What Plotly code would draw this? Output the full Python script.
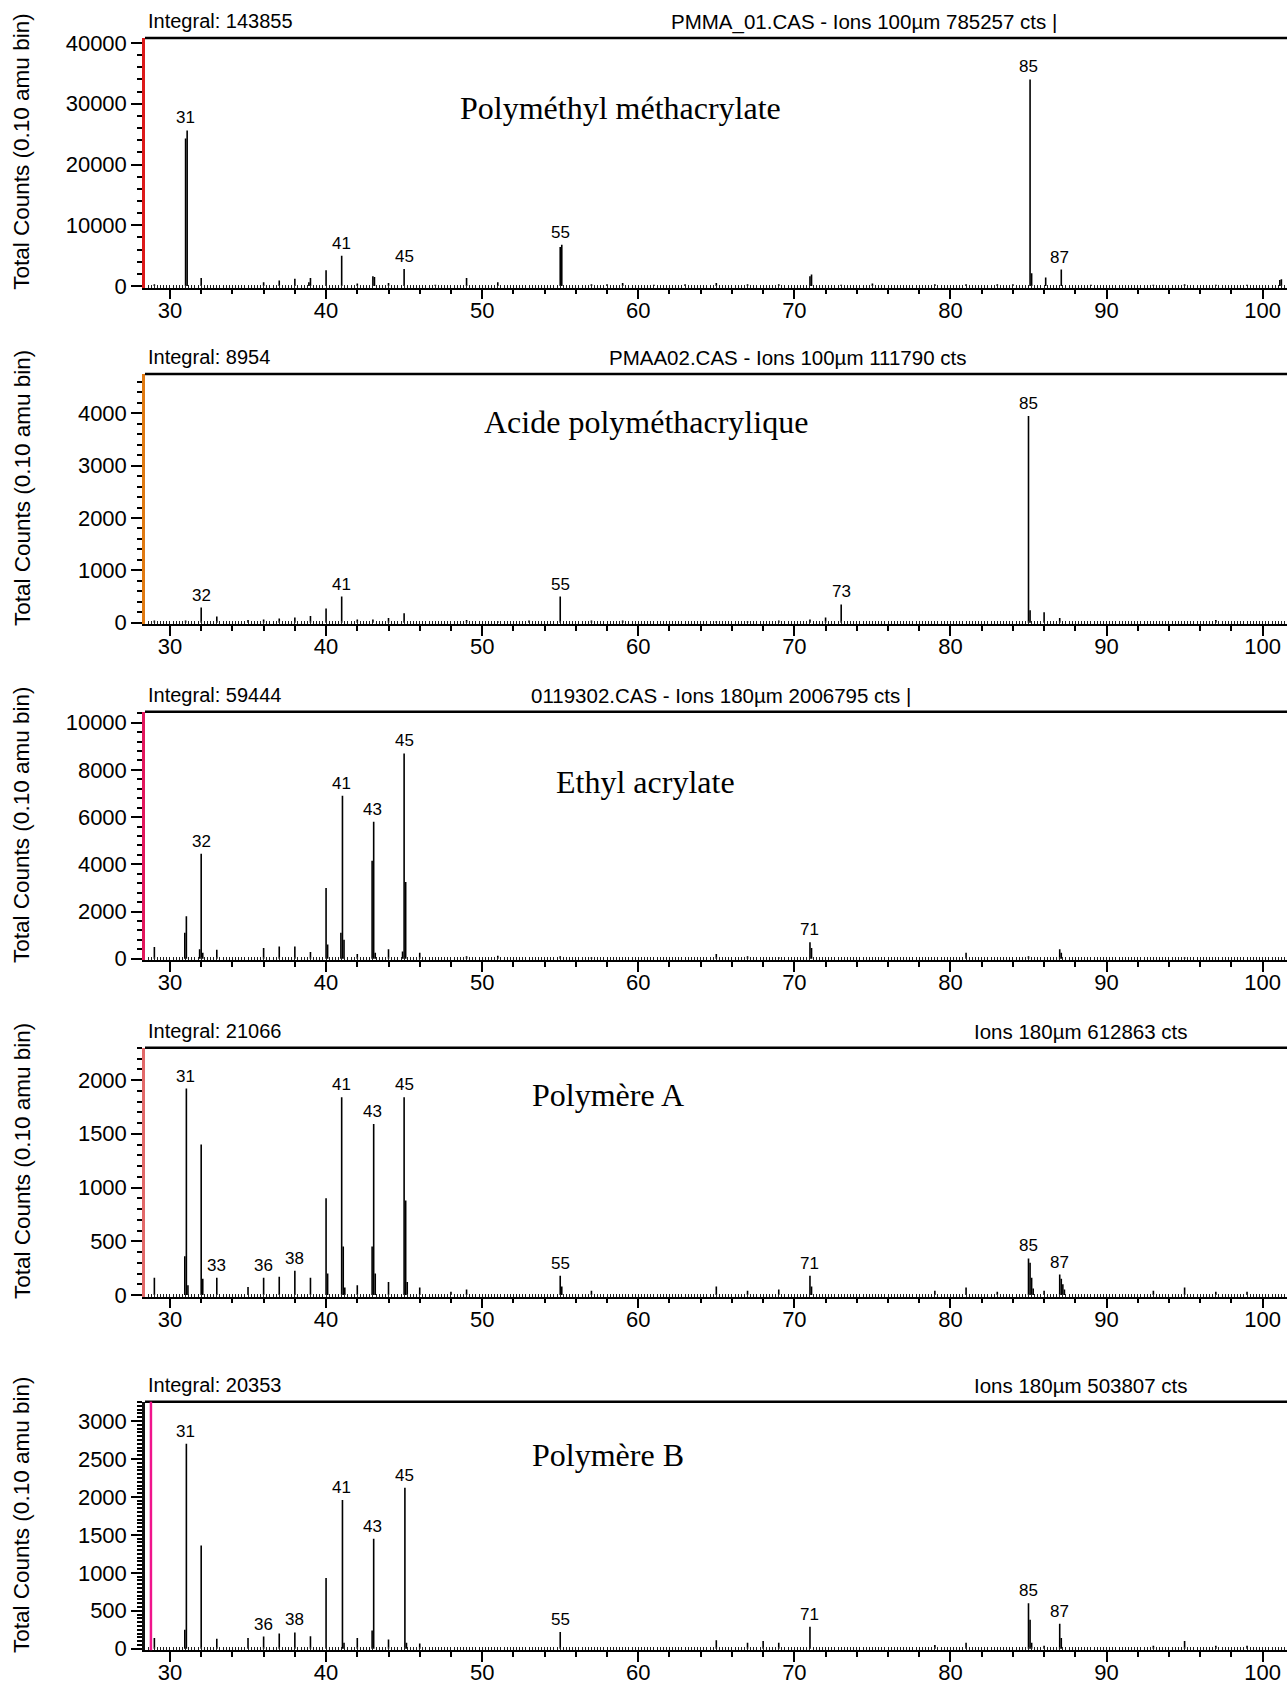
import plotly.graph_objects as go

# ---------------- DATA ----------------
MASS_1 = [29, 31.0, 31.1, 32, 36, 37, 38, 38.9, 39, 40, 41, 42, 43.0, 43.1, 44, 45, 47, 49, 51,
          55.0, 55.1, 57, 58, 59, 61, 63, 65, 67, 69, 71.0, 71.1, 73, 75, 79, 81, 83, 84,
          85.1, 85.2, 86.1, 87.1, 89, 93, 95, 97, 99, 101.1, 101.2]
COUNTS_1 = [300, 24300, 25600, 1300, 600, 900, 1200, 600, 1300, 2600, 5000, 400, 1600, 1500, 500, 2800, 200, 1300, 600,
            6400, 6800, 300, 300, 500, 200, 300, 500, 300, 300, 1600, 1900, 200, 400, 300, 300, 300, 300,
            34000, 2100, 1400, 2700, 200, 200, 300, 200, 200, 1000, 1100]
LABELS_1 = [31, 41, 45, 55, 85, 87]

MASS_2 = [29, 31, 32, 33, 35, 36, 37, 38, 39, 40, 41, 42, 43, 44, 45, 49, 51, 53, 55, 57, 59,
          65, 67, 69, 71, 72, 73, 85.0, 85.1, 86, 87, 97]
COUNTS_2 = [40, 40, 290, 120, 50, 60, 80, 100, 130, 270, 500, 60, 60, 90, 180, 50, 30, 40, 500, 40, 40,
            30, 30, 40, 60, 100, 350, 3950, 240, 200, 90, 50]
LABELS_2 = [32, 41, 55, 73, 85]

MASS_3 = [29, 30.95, 31.05, 31.9, 32.0, 32.1, 33, 36, 37, 38, 39, 40.0, 40.1, 40.95, 41.05, 41.15, 42,
          42.95, 43.05, 43.15, 44, 44.9, 45.0, 45.1, 46, 49, 51, 55, 57, 65, 67, 69, 71.0, 71.1,
          81, 85, 87.0, 87.1, 95]
COUNTS_3 = [500, 1100, 1800, 400, 4450, 250, 380, 450, 520, 520, 280, 3000, 600, 1100, 6900, 800, 200,
            4150, 5800, 250, 400, 300, 8700, 3250, 250, 100, 120, 100, 60, 200, 100, 60, 700, 450,
            250, 100, 400, 250, 60]
LABELS_3 = [32, 41, 43, 45, 71]

MASS_4 = [29, 30.95, 31.05, 31.15, 32.0, 32.1, 33, 35, 36, 37, 38, 39, 40.0, 40.1, 41.0, 41.1, 41.2, 42,
          42.95, 43.05, 43.15, 44, 45.0, 45.1, 45.2, 46, 48, 49, 55.0, 55.1, 57, 65, 67, 69, 71.0, 71.1,
          79, 81, 83, 85.0, 85.1, 85.2, 85.3, 86, 87.0, 87.1, 87.2, 87.3, 93, 95, 97, 99]
COUNTS_4 = [160, 360, 1920, 90, 1400, 150, 160, 75, 160, 170, 225, 160, 900, 200, 1840, 450, 70, 90,
            450, 1590, 200, 120, 1840, 880, 120, 70, 30, 50, 180, 80, 40, 80, 40, 50, 180, 80,
            40, 70, 30, 340, 300, 160, 60, 40, 190, 150, 100, 50, 40, 70, 30, 30]
LABELS_4 = [31, 33, 36, 38, 41, 43, 45, 55, 71, 85, 87]

MASS_5 = [29, 30.95, 31.05, 32, 33, 35, 36, 37, 38, 39, 40, 41.05, 41.15, 42, 42.95, 43.05, 44,
          45.05, 45.15, 46, 55, 65, 67, 68, 69, 71, 79, 81, 85.0, 85.1, 85.2, 86, 87.0, 87.1,
          93, 95, 97, 99]
COUNTS_5 = [140, 250, 2700, 1360, 130, 140, 160, 200, 215, 165, 930, 1960, 80, 140, 240, 1450, 120,
            2120, 80, 70, 220, 110, 80, 100, 80, 290, 50, 80, 600, 380, 80, 40, 330, 140,
            40, 100, 40, 40]
LABELS_5 = [31, 36, 38, 41, 43, 45, 55, 71, 85, 87]

INTEGRALS = ["Integral: 143855", "Integral: 8954", "Integral: 59444", "Integral: 21066", "Integral: 20353"]
HEADERS = ["PMMA_01.CAS - Ions 100µm 785257 cts |", "PMAA02.CAS - Ions 100µm 111790 cts",
           "0119302.CAS - Ions 180µm 2006795 cts |", "Ions 180µm 612863 cts", "Ions 180µm 503807 cts"]
NAMES = ["Polyméthyl méthacrylate", "Acide polyméthacrylique", "Ethyl acrylate", "Polymère A", "Polymère B"]
Y_TITLE = "Total Counts (0.10 amu bin)"
X_TICKS = [30, 40, 50, 60, 70, 80, 90, 100]

MASSES = [MASS_1, MASS_2, MASS_3, MASS_4, MASS_5]
COUNTS = [COUNTS_1, COUNTS_2, COUNTS_3, COUNTS_4, COUNTS_5]
LABELS = [LABELS_1, LABELS_2, LABELS_3, LABELS_4, LABELS_5]

# ---------------- LAYOUT GEOMETRY ----------------
W, H = 1287, 1685
ML = 145
PW = W - ML
X_RANGE = [28.4, 101.56]

GEOM = [
    dict(top=38.0, zero=286.0, ppu=243.0 / 40000, dtick=10000, minor=2000),
    dict(top=374.0, zero=622.7, ppu=209.4 / 4000, dtick=1000, minor=200),
    dict(top=711.7, zero=958.7, ppu=236.0 / 10000, dtick=2000, minor=400),
    dict(top=1047.7, zero=1295.0, ppu=215.0 / 2000, dtick=500, minor=100),
    dict(top=1401.7, zero=1648.7, ppu=227.7 / 3000, dtick=500, minor=50),
]
AXIS_COLORS = ["#dd1a1a", "#e07a12", "#e2185e", "#e26a6a", "#111111"]
HEADER_X = [864, 787, 721, 1081, 1081]
NAME_POS = [(620, 108), (646, 422), (645, 782), (608, 1095), (608, 1455)]

FONT = "Liberation Sans, Arial, sans-serif"
SERIF = "Liberation Serif, Times New Roman, serif"


def px_x(px):
    return (px - ML) / PW


def px_y(py):
    return 1 - py / H


fig = go.Figure()
layout = dict(width=W, height=H, margin=dict(l=ML, r=0, t=0, b=0, autoexpand=False),
              paper_bgcolor="white", plot_bgcolor="white", showlegend=False,
              font=dict(family=FONT, color="black"))
annotations = []
shapes = []

for i in range(5):
    n = i + 1
    g = GEOM[i]
    sfx = "" if n == 1 else str(n)
    bottom_px = g["zero"] + 1.5
    ymin = -1.5 / g["ppu"]
    ymax = (g["zero"] - g["top"]) / g["ppu"]

    xs, ys = [], []
    for m, c in zip(MASSES[i], COUNTS[i]):
        xs += [m, m, None]
        ys += [0, c, None]
    fig.add_trace(go.Scatter(x=xs, y=ys, mode="lines", line=dict(color="black", width=1.6),
                             xaxis="x" + sfx, yaxis="y" + sfx, hoverinfo="skip"))
    ov = str(n + 5)
    fig.add_trace(go.Scatter(x=[30], y=[0], mode="markers", marker=dict(opacity=0),
                             xaxis="x" + ov, yaxis="y" + sfx, hoverinfo="skip"))

    layout["xaxis" + sfx] = dict(
        domain=[0, 1], anchor="y" + sfx, range=X_RANGE, tickvals=X_TICKS, automargin=False,
        ticks="outside", ticklen=10, tickwidth=1.5, tickcolor="black",
        showline=True, linecolor="black", linewidth=1.5, showgrid=False, zeroline=False,
        tickfont=dict(size=22, family=FONT, color="black"), ticklabelstandoff=-8,
        minor=dict(dtick=2, tick0=0, ticks="outside", ticklen=5, tickwidth=1.5, tickcolor="black"),
    )
    layout["xaxis" + ov] = dict(
        overlaying="x" + sfx, anchor="y" + sfx, range=X_RANGE, dtick=0.2, tick0=0, automargin=False,
        ticks="inside", ticklen=3, tickwidth=1, tickcolor="#222222",
        showticklabels=False, showline=False, showgrid=False, zeroline=False,
    )
    layout["yaxis" + sfx] = dict(
        domain=[px_y(bottom_px), px_y(g["top"])], anchor="x" + sfx, range=[ymin, ymax], automargin=False,
        dtick=g["dtick"], tick0=0, tickformat="d", ticks="outside", ticklen=11, tickwidth=1.5,
        tickcolor="black", showline=True, linecolor=AXIS_COLORS[i], linewidth=2.5,
        showgrid=False, zeroline=False,
        tickfont=dict(size=22, family=FONT, color="black"),
        minor=dict(dtick=g["minor"], tick0=0, ticks="outside", ticklen=5, tickwidth=1.5, tickcolor="black"),
    )

    shapes.append(dict(type="line", xref="paper", yref="paper", x0=0, x1=1,
                       y0=px_y(g["top"]), y1=px_y(g["top"]), line=dict(color="black", width=2.5)))

    for lab in LABELS[i]:
        near = [c for m, c in zip(MASSES[i], COUNTS[i]) if abs(m - lab) < 0.35]
        annotations.append(dict(x=lab, y=max(near), xref="x" + sfx, yref="y" + sfx, text=str(lab),
                                showarrow=False, yanchor="bottom", xanchor="center", yshift=1,
                                font=dict(size=17, family=FONT, color="black")))
    annotations.append(dict(x=px_x(146), y=px_y(g["top"] - 17), xref="paper", yref="paper",
                            text=INTEGRALS[i], showarrow=False, xanchor="left", yanchor="middle",
                            font=dict(size=20, family=FONT, color="black")))
    annotations.append(dict(x=px_x(HEADER_X[i]), y=px_y(g["top"] - 16), xref="paper", yref="paper",
                            text=HEADERS[i], showarrow=False, xanchor="center", yanchor="middle",
                            font=dict(size=20.5, family=FONT, color="black")))
    nx, ny = NAME_POS[i]
    annotations.append(dict(x=px_x(nx), y=px_y(ny), xref="paper", yref="paper",
                            text=NAMES[i], showarrow=False, xanchor="center", yanchor="middle",
                            font=dict(size=32, family=SERIF, color="black")))
    center = (g["top"] + bottom_px) / 2 - 11
    annotations.append(dict(x=px_x(22), y=px_y(center), xref="paper", yref="paper",
                            text=Y_TITLE, showarrow=False, textangle=-90, xanchor="center",
                            yanchor="middle", font=dict(size=22.5, family=FONT, color="black")))

g5 = GEOM[4]
shapes.append(dict(type="line", xref="x5", yref="paper", x0=28.78, x1=28.78,
                   y0=px_y(g5["zero"] + 1.5), y1=px_y(g5["top"]), line=dict(color="#f0148c", width=2.5)))

layout["annotations"] = annotations
layout["shapes"] = shapes
fig.update_layout(**layout)
fig.write_html("out.html")
